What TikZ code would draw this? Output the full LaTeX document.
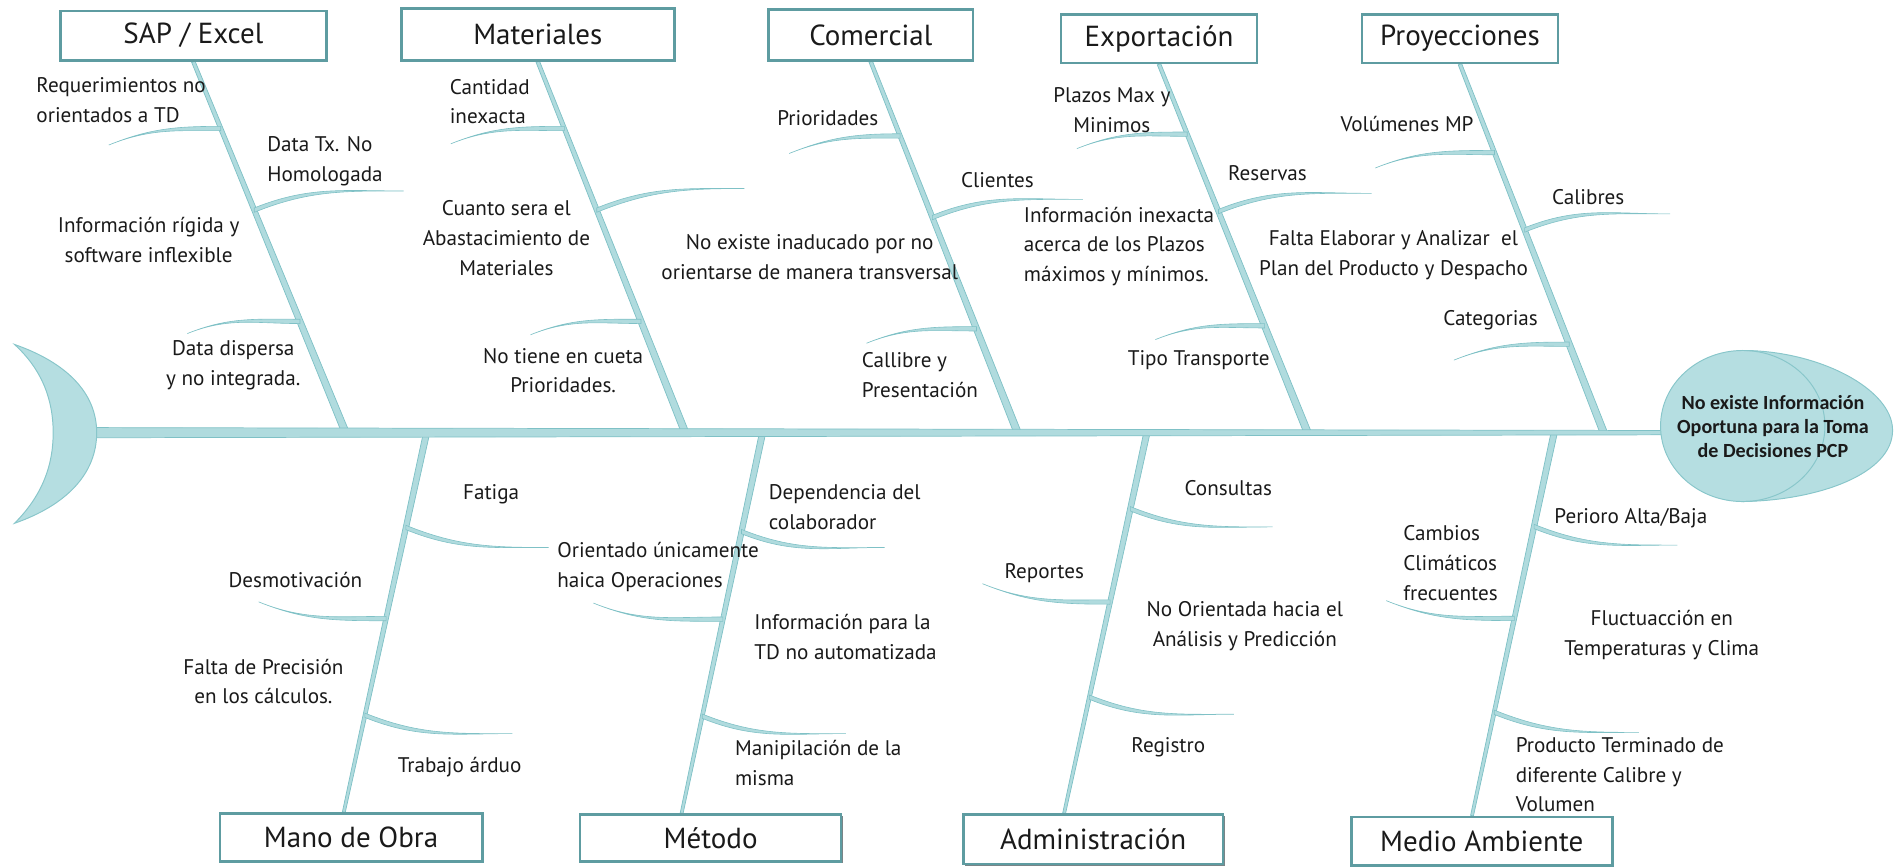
\documentclass[tikz,border=0pt]{standalone}
\usepackage{fontspec}
\setmainfont{PT Sans}
\newfontfamily\headfont{Carlito}
\usetikzlibrary{calc,shadows}
\pgfdeclarelayer{bones}
\pgfsetlayers{bones,main}

\definecolor{bonefill}{HTML}{B0DBDE}
\definecolor{boneedge}{HTML}{7FC1C6}
\definecolor{headfill}{HTML}{B5DEE1}
\definecolor{headedge}{HTML}{88C6CA}
\definecolor{boxedge}{HTML}{5E9CA1}
\definecolor{boxshade}{HTML}{7A8587}
\definecolor{ink}{HTML}{1A1A1A}

\tikzset{
  bonestyle/.style={fill=bonefill, draw=boneedge, line width=0.6pt},
  twigstyle/.style={fill=bonefill, draw=boneedge, line width=0.5pt},
  catbox/.style={draw=boxedge, line width=2.2pt, fill=white, text=ink,
    font=\fontsize{24}{28}\selectfont, inner sep=0pt,
    drop shadow={shadow xshift=1.3pt, shadow yshift=-1.3pt, fill=boxshade, opacity=1}},
  lbl/.style={font=\fontsize{17.5}{24.5}\selectfont, text=ink, inner sep=0pt,
    align=left, anchor=west},
  clbl/.style={font=\fontsize{17.5}{24.5}\selectfont, text=ink, inner sep=0pt,
    align=center},
}

% tapered bone between two points: half width #3 at #1, #4 at #2
\newcommand\taper[4]{%
  \filldraw[bonestyle] ($(#1)!#3!90:(#2)$) -- ($(#1)!#3!-90:(#2)$)
    -- ($(#2)!#4!90:(#1)$) -- ($(#2)!#4!-90:(#1)$) -- cycle;}
% curved sub-cause sliver from a bone point #1 to its tip #2
\newcommand\twig[4]{%
  \filldraw[twigstyle] ([yshift=1.8pt]#1) to[out=#3,in=#4] (#2)
    to[out=#4,in=#3] ([yshift=-1.8pt]#1) -- cycle;}

\begin{document}
\begin{tikzpicture}[x=1pt,y=-1pt]
\useasboundingbox (0,0) rectangle (1568,717);

% ---------- category boxes ----------
\node[catbox, minimum width=220, minimum height=41] (sap) at (160,29.5) {SAP / Excel};
\node[catbox, minimum width=226, minimum height=43] (mat) at (445,28.5) {Materiales};
\node[catbox, minimum width=169, minimum height=42] (com) at (720.5,29) {Comercial};
\node[catbox, minimum width=162, minimum height=40] (exp) at (959,32) {Exportación};
\node[catbox, minimum width=162, minimum height=40] (pro) at (1208,32) {Proyecciones};
\node[catbox, minimum width=217, minimum height=40] (mano) at (290.5,693) {Mano de Obra};
\node[catbox, minimum width=216, minimum height=39] (met) at (588,693.5) {Método};
\node[catbox, minimum width=215, minimum height=41] (adm) at (904.5,694.5) {Administración};
\node[catbox, minimum width=216, minimum height=40] (med) at (1226,696) {Medio Ambiente};

% ---------- spine points ----------
\coordinate (tailR) at (79,358);
\coordinate (headL) at (1376,358);
\coordinate (sapB) at (286,358);
\coordinate (matB) at (567,358);
\coordinate (comB) at (842,358);
\coordinate (expB) at (1082,358);
\coordinate (proB) at (1327,358);
\coordinate (manoT) at (353,358);
\coordinate (metT) at (631,358);
\coordinate (admT) at (949,358);
\coordinate (medT) at (1286,358);
\coordinate (manoB) at ([xshift=-6pt]mano.north);
\coordinate (metB) at ([xshift=-24pt]met.north);
\coordinate (admB) at ([xshift=-24pt]adm.north);
\coordinate (medB) at ([xshift=-8pt]med.north);

% ---------- sub-cause branch points ----------
\coordinate (sap1) at ($(sap.south)!.18!(sapB)$);  \coordinate (sap1e) at (90,120);
\coordinate (sap2) at ($(sap.south)!.40!(sapB)$);  \coordinate (sap2e) at (334,158);
\coordinate (sap3) at ($(sap.south)!.70!(sapB)$);  \coordinate (sap3e) at (155,276);
\coordinate (mat1) at ($(mat.south)!.18!(matB)$);  \coordinate (mat1e) at (373,119);
\coordinate (mat2) at ($(mat.south)!.40!(matB)$);  \coordinate (mat2e) at (616,156);
\coordinate (mat3) at ($(mat.south)!.70!(matB)$);  \coordinate (mat3e) at (439,277);
\coordinate (com1) at ($(com.south)!.20!(comB)$);  \coordinate (com1e) at (653,127);
\coordinate (com2) at ($(com.south)!.42!(comB)$);  \coordinate (com2e) at (896,165);
\coordinate (com3) at ($(com.south)!.72!(comB)$);  \coordinate (com3e) at (717,284);
\coordinate (exp1) at ($(exp.south)!.19!(expB)$);  \coordinate (exp1e) at (891,123);
\coordinate (exp2) at ($(exp.south)!.40!(expB)$);  \coordinate (exp2e) at (1135,160);
\coordinate (exp3) at ($(exp.south)!.71!(expB)$);  \coordinate (exp3e) at (956,281);
\coordinate (pro1) at ($(pro.south)!.24!(proB)$);  \coordinate (pro1e) at (1138,139);
\coordinate (pro2) at ($(pro.south)!.45!(proB)$);  \coordinate (pro2e) at (1382,177);
\coordinate (pro3) at ($(pro.south)!.76!(proB)$);  \coordinate (pro3e) at (1203,298);
\coordinate (mano1) at ($(manoT)!.25!(manoB)$);   \coordinate (mano1e) at (454,453);
\coordinate (mano2) at ($(manoT)!.49!(manoB)$);   \coordinate (mano2e) at (214,498);
\coordinate (mano3) at ($(manoT)!.745!(manoB)$);  \coordinate (mano3e) at (424,607);
\coordinate (met1) at ($(metT)!.26!(metB)$);      \coordinate (met1e) at (732,453);
\coordinate (met2) at ($(metT)!.49!(metB)$);      \coordinate (met2e) at (491,499);
\coordinate (met3) at ($(metT)!.745!(metB)$);     \coordinate (met3e) at (700,607);
\coordinate (adm1) at ($(admT)!.20!(admB)$);      \coordinate (adm1e) at (1053,436);
\coordinate (adm2) at ($(admT)!.445!(admB)$);     \coordinate (adm2e) at (813,483);
\coordinate (adm3) at ($(admT)!.695!(admB)$);     \coordinate (adm3e) at (1021,591);
\coordinate (med1) at ($(medT)!.245!(medB)$);     \coordinate (med1e) at (1388,451);
\coordinate (med2) at ($(medT)!.485!(medB)$);     \coordinate (med2e) at (1147,497);
\coordinate (med3) at ($(medT)!.73!(medB)$);      \coordinate (med3e) at (1356,606);

\begin{pgfonlayer}{bones}
  % main bones
  \taper{sap.south}{sapB}{1.5pt}{3pt}
  \taper{mat.south}{matB}{1.5pt}{3pt}
  \taper{com.south}{comB}{1.5pt}{3pt}
  \taper{exp.south}{expB}{1.5pt}{3pt}
  \taper{pro.south}{proB}{1.5pt}{3pt}
  \taper{manoT}{manoB}{2.6pt}{1.2pt}
  \taper{metT}{metB}{2.6pt}{1.2pt}
  \taper{admT}{admB}{2.6pt}{1.2pt}
  \taper{medT}{medB}{2.6pt}{1.2pt}
  % sub-cause branches
  \twig{sap1}{sap1e}{180}{22}  \twig{sap2}{sap2e}{22}{180}  \twig{sap3}{sap3e}{180}{22}
  \twig{mat1}{mat1e}{180}{22}  \twig{mat2}{mat2e}{22}{180}  \twig{mat3}{mat3e}{180}{22}
  \twig{com1}{com1e}{180}{22}  \twig{com2}{com2e}{22}{180}  \twig{com3}{com3e}{180}{22}
  \twig{exp1}{exp1e}{180}{22}  \twig{exp2}{exp2e}{22}{180}  \twig{exp3}{exp3e}{180}{22}
  \twig{pro1}{pro1e}{180}{22}  \twig{pro2}{pro2e}{22}{180}  \twig{pro3}{pro3e}{180}{22}
  \twig{mano1}{mano1e}{-22}{180} \twig{mano2}{mano2e}{180}{-22} \twig{mano3}{mano3e}{-22}{180}
  \twig{met1}{met1e}{-22}{180}   \twig{met2}{met2e}{180}{-22}   \twig{met3}{met3e}{-22}{180}
  \twig{adm1}{adm1e}{-22}{180}   \twig{adm2}{adm2e}{180}{-22}   \twig{adm3}{adm3e}{-22}{180}
  \twig{med1}{med1e}{-22}{180}   \twig{med2}{med2e}{180}{-22}   \twig{med3}{med3e}{-22}{180}
  % spine
  \taper{tailR}{headL}{4.2pt}{1.8pt}
\end{pgfonlayer}

% ---------- tail ----------
\filldraw[fill=headfill, draw=headedge, line width=0.8pt]
  (12,285) .. controls (55,300) and (80,325) .. (80,358)
  .. controls (80,392) and (55,418) .. (12,433)
  .. controls (35,410) and (44,385) .. (44,358)
  .. controls (44,331) and (35,306) .. (12,285) -- cycle;

% ---------- head ----------
\fill[headfill] (1442,290) .. controls (1505,290) and (1566,322) .. (1566,356)
  .. controls (1566,392) and (1505,414) .. (1442,415) -- cycle;
\fill[headfill] (1442,352.5) ellipse[x radius=68, y radius=62.5];
\draw[headedge, line width=0.8pt] (1442,290) .. controls (1505,290) and (1566,322) .. (1566,356)
  .. controls (1566,392) and (1505,414) .. (1442,415);
\draw[headedge, line width=0.8pt] (1442,352.5) ellipse[x radius=68, y radius=62.5];
\node[font=\headfont\bfseries\fontsize{16.6}{20}\selectfont, text=ink, align=center,
  inner sep=0pt] (effect) at (1467,353)
  {No existe Información\\Oportuna para la Toma\\de Decisiones PCP};

% ---------- sub-cause labels ----------
\node[lbl]  (t11) at (30,83) {Requerimientos no\\orientados a TD};
\node[lbl]  (t12) at (221,133.5) {Data Tx. No\\Homologada};
\node[clbl] (t13) at (123,198.5) {Información rígida y\\software inflexible};
\node[clbl] (t14) at (193,302) {Data dispersa\\y no integrada.};

\node[lbl]  (t21) at (372,84) {Cantidad\\inexacta};
\node[clbl] (t22) at (419,197) {Cuanto sera el\\Abastacimiento de\\Materiales};
\node[clbl] (t23) at (466,306.5) {No tiene en cueta\\Prioridades.};

\node[lbl]  (t31) at (643,98) {Prioridades};
\node[lbl]  (t32) at (795,149) {Clientes};
\node[clbl] (t33) at (670,212.5) {No existe inaducado por no\\orientarse de manera transversal};
\node[lbl]  (t34) at (713,310.5) {Callibre y\\Presentación};

\node[clbl] (t41) at (920,91) {Plazos Max y\\Minimos};
\node[lbl]  (t42) at (1016,143) {Reservas};
\node[lbl]  (t43) at (847,204) {Información inexacta\\acerca de los Plazos\\máximos y mínimos.};
\node[lbl]  (t44) at (933,298) {Tipo Transporte};

\node[lbl]  (t51) at (1109,103) {Volúmenes MP};
\node[lbl]  (t52) at (1284,163) {Calibres};
\node[clbl] (t53) at (1153,211) {Falta Elaborar y Analizar\ \ el\\Plan del Producto y Despacho};
\node[lbl]  (t54) at (1194,265) {Categorias};

\node[lbl]  (t61) at (383,409) {Fatiga};
\node[lbl]  (t62) at (189,480) {Desmotivación};
\node[clbl] (t63) at (218,564) {Falta de Precisión\\en los cálculos.};
\node[lbl]  (t64) at (329,635) {Trabajo árduo};

\node[lbl]  (t71) at (636,419.5) {Dependencia del\\colaborador};
\node[lbl]  (t72) at (461,469) {Orientado únicamente\\haica Operaciones};
\node[lbl]  (t73) at (624,527) {Información para la\\TD no automatizada};
\node[lbl]  (t74) at (608,631.5) {Manipilación de la\\misma};

\node[lbl]  (t81) at (980,404) {Consultas};
\node[lbl]  (t82) at (831,474) {Reportes};
\node[clbl] (t83) at (1030,518) {No Orientada hacia el\\Análisis y Predicción};
\node[lbl]  (t84) at (936,618) {Registro};

\node[lbl]  (t91) at (1286,429) {Perioro Alta/Baja};
\node[lbl]  (t92) at (1161,466) {Cambios\\Climáticos\\frecuentes};
\node[clbl] (t93) at (1375,525.5) {Fluctuacción en\\Temperaturas y Clima};
\node[lbl]  (t94) at (1254,641) {Producto Terminado de\\diferente Calibre y\\Volumen};
\end{tikzpicture}
\end{document}
